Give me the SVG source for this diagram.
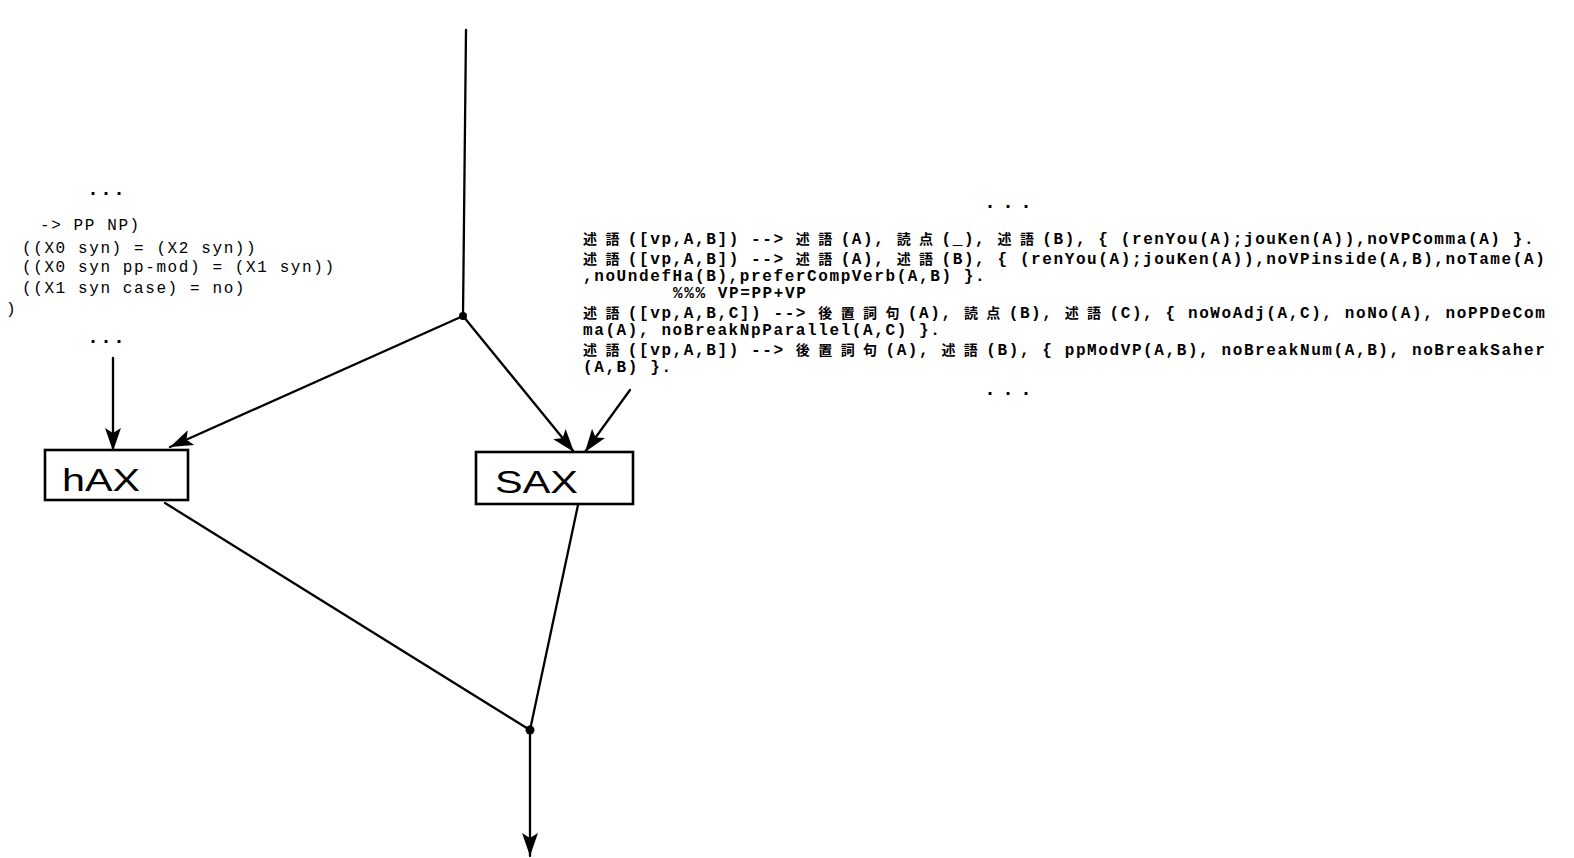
<svg xmlns="http://www.w3.org/2000/svg" width="1574" height="858" viewBox="0 0 1574 858">
<style>
.bg{fill:#fff}
.ln{stroke:#000;stroke-width:2.3;fill:none;stroke-linecap:round}
.dot{fill:#000}
.box{fill:#fff;stroke:#000;stroke-width:2.6}
.lbl{font-family:"Liberation Sans",Arial,sans-serif;font-size:32px;fill:#000}
.code{font-family:"Liberation Mono","Courier New",monospace;font-size:16px;letter-spacing:1.6px;fill:#000}
.cl{font-weight:normal}
.cr{font-weight:bold}
.j{font-family:"Noto Sans CJK JP","Noto Sans CJK SC",sans-serif;font-weight:bold;font-size:14px;letter-spacing:8.4px}
.dots{font-family:"Liberation Mono",monospace;font-size:20px;font-weight:bold;fill:#000}
</style>
<defs>
<marker id="ah" markerUnits="userSpaceOnUse" markerWidth="26" markerHeight="20" refX="23" refY="10" orient="auto">
<path d="M0,2 L23,10 L0,18 L5,10 Z" fill="#000"/>
</marker>
</defs>
<rect class="bg" x="0" y="0" width="1574" height="858"/>

<g id="connectors">
<line class="ln" x1="466" y1="30" x2="463" y2="316"/>
<line class="ln" x1="463" y1="316" x2="170" y2="447" marker-end="url(#ah)"/>
<line class="ln" x1="463" y1="316" x2="574" y2="452" marker-end="url(#ah)"/>
<line class="ln" x1="630" y1="390" x2="585" y2="452" marker-end="url(#ah)"/>
<line class="ln" x1="113" y1="358" x2="113" y2="451" marker-end="url(#ah)"/>
<line class="ln" x1="165" y1="503" x2="530" y2="730"/>
<line class="ln" x1="578" y1="505" x2="530" y2="730"/>
<line class="ln" x1="530" y1="730" x2="530" y2="856" marker-end="url(#ah)"/>
<circle class="dot" cx="463" cy="316" r="4"/>
<circle class="dot" cx="530" cy="730" r="4.5"/>
</g>

<g id="hax">
<rect class="box" x="45" y="450" width="143" height="50"/>
<text class="lbl" x="62" y="491" textLength="78" lengthAdjust="spacingAndGlyphs">hAX</text>
</g>

<g id="sax">
<rect class="box" x="476" y="452" width="157" height="52"/>
<text class="lbl" x="495" y="493" textLength="83" lengthAdjust="spacingAndGlyphs">SAX</text>
</g>

<g id="note-left">
<text class="dots" x="87" y="195" letter-spacing="1">...</text>
<text class="code cl"><tspan x="40" y="230">-&gt; PP NP)</tspan><tspan x="22" y="253">((X0 syn) = (X2 syn))</tspan><tspan x="22" y="272">((X0 syn pp-mod) = (X1 syn))</tspan><tspan x="22" y="293">((X1 syn case) = no)</tspan><tspan x="6" y="314">)</tspan></text>
<text class="dots" x="87" y="343" letter-spacing="1">...</text>
</g>

<g id="note-right">
<text class="dots" x="984" y="208" letter-spacing="6">...</text>
<text class="code cr"><tspan x="583" y="244"><tspan class="j">述語</tspan>([vp,A,B]) --&gt; <tspan class="j">述語</tspan>(A), <tspan class="j">読点</tspan>(_), <tspan class="j">述語</tspan>(B), { (renYou(A);jouKen(A)),noVPComma(A) }.</tspan><tspan x="583" y="264"><tspan class="j">述語</tspan>([vp,A,B]) --&gt; <tspan class="j">述語</tspan>(A), <tspan class="j">述語</tspan>(B), { (renYou(A);jouKen(A)),noVPinside(A,B),noTame(A)</tspan><tspan x="583" y="281">,noUndefHa(B),preferCompVerb(A,B) }.</tspan><tspan x="673" y="298">%%% VP=PP+VP</tspan><tspan x="583" y="318"><tspan class="j">述語</tspan>([vp,A,B,C]) --&gt; <tspan class="j">後置詞句</tspan>(A), <tspan class="j">読点</tspan>(B), <tspan class="j">述語</tspan>(C), { noWoAdj(A,C), noNo(A), noPPDeCom</tspan><tspan x="583" y="335">ma(A), noBreakNpParallel(A,C) }.</tspan><tspan x="583" y="355"><tspan class="j">述語</tspan>([vp,A,B]) --&gt; <tspan class="j">後置詞句</tspan>(A), <tspan class="j">述語</tspan>(B), { ppModVP(A,B), noBreakNum(A,B), noBreakSaher</tspan><tspan x="583" y="372">(A,B) }.</tspan></text>
<text class="dots" x="984" y="395" letter-spacing="6">...</text>
</g>
</svg>
